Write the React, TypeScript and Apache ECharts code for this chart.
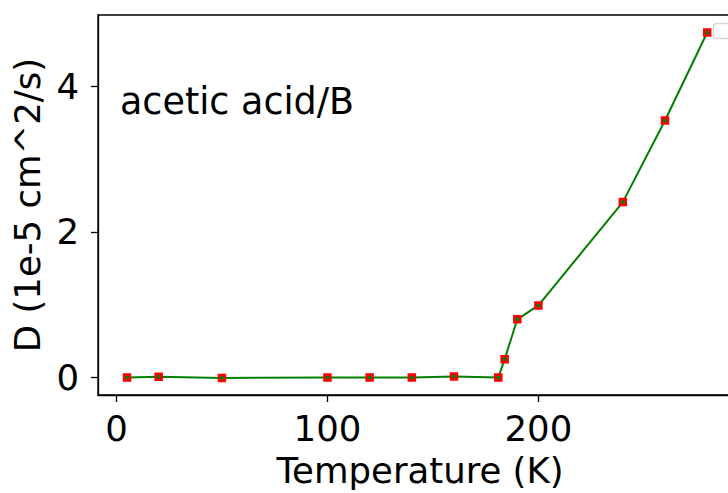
import React, { useEffect, useRef } from "react";
import * as echarts from "echarts";

// Diffusion coefficient vs temperature
const temperatures = [5, 20, 50, 100, 120, 140, 160, 181, 184, 190, 200, 240, 260, 280];
const diffusion = [0.0, 0.01, -0.005, 0.0, 0.0, 0.0, 0.015, 0.0, 0.25, 0.8, 0.99, 2.41, 3.53, 4.74];
const xTicks = [0, 100, 200];
const yTicks = [0, 2, 4];
const panelLabel = "acetic acid/B";
const xTitle = "Temperature (K)";
const yTitle = "D (1e-5 cm^2/s)";

const FONT = "DejaVu Sans";
const FS = 35.5;

export default function App() {
  const ref = useRef<HTMLDivElement>(null);

  useEffect(() => {
    if (!ref.current) return;
    const chart = echarts.init(ref.current, null, { renderer: "svg" });
    const points = temperatures.map((t, i) => [t, diffusion[i]]);

    chart.setOption({
      animation: false,
      backgroundColor: "#ffffff",
      grid: {
        left: 98,
        top: 15,
        width: 644,
        height: 380,
        outerBoundsMode: "none",
        containLabel: false,
        show: true,
        borderColor: "#000000",
        borderWidth: 1.3,
        backgroundColor: "transparent",
      },
      xAxis: {
        type: "value",
        min: -8.75,
        max: 296.5,
        name: xTitle,
        nameLocation: "middle",
        nameGap: 57,
        nameTextStyle: { fontFamily: FONT, fontSize: FS, color: "#000" },
        axisLine: { show: true, onZero: false, lineStyle: { color: "#000", width: 1.3 } },
        axisTick: {
          show: true,
          inside: false,
          length: 7,
          customValues: xTicks,
          lineStyle: { color: "#000", width: 1.3 },
        },
        axisLabel: {
          customValues: xTicks,
          margin: 15,
          fontFamily: FONT,
          fontSize: FS,
          color: "#000",
        },
        splitLine: { show: false },
      },
      yAxis: {
        type: "value",
        min: -0.24,
        max: 4.98,
        name: yTitle,
        nameLocation: "middle",
        nameRotate: 90,
        nameGap: 52,
        nameTextStyle: { fontFamily: FONT, fontSize: FS, color: "#000" },
        axisLine: { show: true, onZero: false, lineStyle: { color: "#000", width: 1.3 } },
        axisTick: {
          show: true,
          inside: false,
          length: 7,
          customValues: yTicks,
          lineStyle: { color: "#000", width: 1.3 },
        },
        axisLabel: {
          customValues: yTicks,
          margin: 19,
          padding: [3, 0, 0, 0],
          fontFamily: FONT,
          fontSize: FS,
          color: "#000",
        },
        splitLine: { show: false },
      },
      series: [
        {
          type: "line",
          data: points,
          lineStyle: { color: "#008000", width: 2 },
          symbol: "rect",
          symbolSize: 6,
          itemStyle: { color: "#008000", borderColor: "#ff0000", borderWidth: 2.5 },
          emphasis: { disabled: true },
          z: 3,
        },
      ],
      graphic: [
        {
          type: "text",
          left: 120,
          top: 83,
          style: {
            text: panelLabel,
            fontFamily: FONT,
            fontSize: 36.5,
            fill: "#000",
          },
          z: 10,
        },
        {
          type: "rect",
          shape: { x: 713.5, y: 23.5, width: 40, height: 15, r: 3 },
          style: { fill: "#ffffff", stroke: "#d6d6d6", lineWidth: 1.3 },
          z: 10,
        },
      ],
    });

    return () => chart.dispose();
  }, []);

  return (
    <div
      style={{
        position: "fixed",
        left: 0,
        top: 0,
        width: 728,
        height: 493,
        overflow: "hidden",
      }}
    >
      <div ref={ref} style={{ width: 760, height: 493 }} />
    </div>
  );
}
